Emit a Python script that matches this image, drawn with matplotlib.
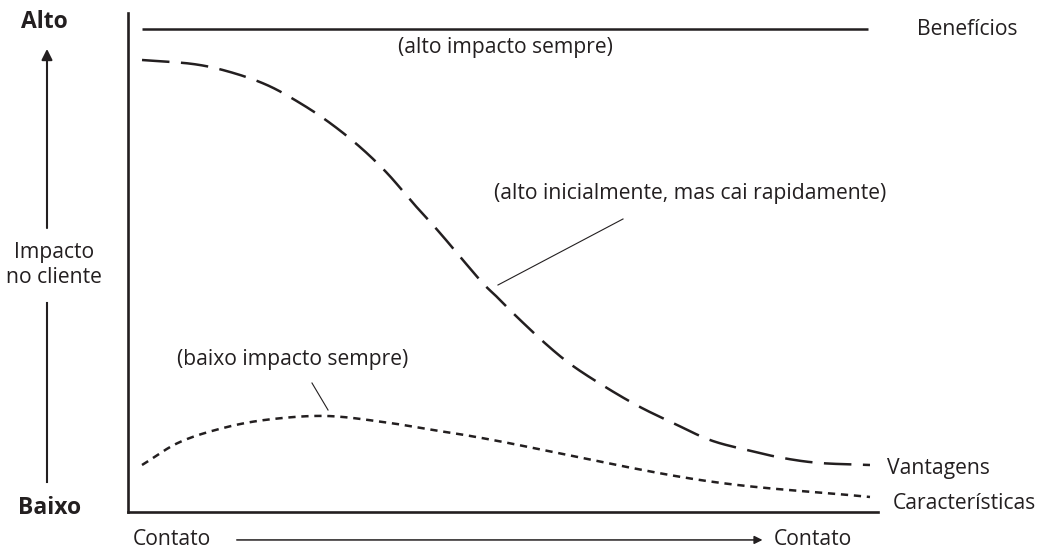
import matplotlib
matplotlib.use("Agg")
import matplotlib.pyplot as plt
import numpy as np

plt.rcParams['font.family'] = ['Open Sans', 'DejaVu Sans']

INK = '#231f20'

# ---- data (x: contato 0..100, y: impacto 0..100) ----
beneficios_x = [1.9, 98.7]
beneficios_y = [96.8, 96.8]

vantagens_x = [1.87, 8.67, 13.6, 18.53, 22.93, 26.93, 30.93, 34.53, 38.0, 41.6,
               46.93, 49.2, 51.87, 55.87, 59.33, 63.87, 68.27, 72.67, 77.6,
               82.53, 87.33, 92.27, 98.93]
vantagens_y = [90.58, 89.78, 88.18, 85.57, 81.96, 77.96, 73.15, 67.94, 61.92, 55.91,
               46.49, 43.09, 39.08, 33.47, 29.26, 24.85, 21.04, 17.84, 14.43,
               12.42, 10.82, 9.82, 9.42]

caracteristicas_x = [1.87, 6.93, 13.2, 19.33, 26.53, 34.0, 40.67, 49.33, 76.27, 98.93]
caracteristicas_y = [9.42, 14.03, 17.03, 18.64, 19.24, 18.04, 16.43, 14.23, 6.41, 3.01]

series_labels = ['Benefícios', 'Vantagens', 'Características']
notes = ['(alto impacto sempre)', '(alto inicialmente, mas cai rapidamente)',
         '(baixo impacto sempre)']
y_labels = ['Alto', 'Impacto\nno cliente', 'Baixo']
x_labels = ['Contato', 'Contato']


def smooth(xs, ys, n=24):
    """Catmull-Rom spline through the read points (for drawing only)."""
    p = np.column_stack([xs, ys]).astype(float)
    p = np.vstack([2 * p[0] - p[1], p, 2 * p[-1] - p[-2]])
    out = []
    t = np.linspace(0, 1, n, endpoint=False)[:, None]
    for i in range(1, len(p) - 2):
        p0, p1, p2, p3 = p[i - 1], p[i], p[i + 1], p[i + 2]
        seg = 0.5 * ((2 * p1) + (-p0 + p2) * t +
                     (2 * p0 - 5 * p1 + 4 * p2 - p3) * t ** 2 +
                     (-p0 + 3 * p1 - 3 * p2 + p3) * t ** 3)
        out.append(seg)
    out.append(p[-2][None, :])
    out = np.vstack(out)
    return out[:, 0], out[:, 1]


fig = plt.figure(figsize=(10.45, 5.51), dpi=100)
W, H = 1045, 551
ax = fig.add_axes([128 / W, (H - 512) / H, (878 - 128) / W, (512 - 13) / H])
ax.set_xlim(0, 100)
ax.set_ylim(0, 100)
for s in ['top', 'right']:
    ax.spines[s].set_visible(False)
for s in ['left', 'bottom']:
    ax.spines[s].set_linewidth(1.9)
    ax.spines[s].set_color(INK)
ax.set_xticks([])
ax.set_yticks([])

lw = 1.8
ax.plot(beneficios_x, beneficios_y, color=INK, lw=lw, solid_capstyle='butt')
vx, vy = smooth(vantagens_x, vantagens_y)
ax.plot(vx, vy, color=INK, lw=lw, dashes=(11, 4.6), dash_capstyle='butt')
cx, cy = smooth(caracteristicas_x, caracteristicas_y)
ax.plot(cx, cy, color=INK, lw=lw, dashes=(2.9, 2.3), dash_capstyle='butt')

fs = 15.2
fb = 16.5
# series labels at right
ax.text(105.2, 96.6, series_labels[0], ha='left', va='center', fontsize=fs, color=INK, clip_on=False)
ax.text(101.2, 8.8, series_labels[1], ha='left', va='center', fontsize=fs, color=INK, clip_on=False)
ax.text(101.9, 1.8, series_labels[2], ha='left', va='center', fontsize=fs, color=INK, clip_on=False)

# notes
ax.text(50.3, 93.0, notes[0], ha='center', va='center', fontsize=fs, color=INK)
ax.text(74.9, 63.9, notes[1], ha='center', va='center', fontsize=fs, color=INK)
ax.text(22.0, 30.5, notes[2], ha='center', va='center', fontsize=fs, color=INK)

# leader lines
ax.plot([49.33, 66.0], [45.49, 58.72], color=INK, lw=0.8)
ax.plot([24.53, 26.67], [25.85, 20.44], color=INK, lw=0.8)

# y axis description
ax.text(-11.1, 98.2, y_labels[0], ha='center', va='center', fontsize=fb,
        fontweight='bold', color=INK, clip_on=False)
ax.text(-9.9, 49.5, y_labels[1], ha='center', va='center', fontsize=fs,
        color=INK, linespacing=1.3, clip_on=False)
ax.text(-10.5, 0.8, y_labels[2], ha='center', va='center', fontsize=fb,
        fontweight='bold', color=INK, clip_on=False)
ax.annotate('', xy=(-10.8, 92.8), xytext=(-10.8, 56.9), xycoords='data',
            arrowprops=dict(arrowstyle='-|>', color=INK, lw=1.5,
                            mutation_scale=16, shrinkA=0, shrinkB=0),
            annotation_clip=False)
ax.plot([-10.8, -10.8], [41.9, 6.0], color=INK, lw=1.5, clip_on=False)

# x axis description
ax.text(5.9, -5.6, x_labels[0], ha='center', va='center', fontsize=fs, color=INK, clip_on=False)
ax.text(91.3, -5.6, x_labels[1], ha='center', va='center', fontsize=fs, color=INK, clip_on=False)
ax.annotate('', xy=(84.6, -5.6), xytext=(14.5, -5.6), xycoords='data',
            arrowprops=dict(arrowstyle='-|>', color=INK, lw=1.1,
                            mutation_scale=12, shrinkA=0, shrinkB=0),
            annotation_clip=False)

fig.savefig('out.png', dpi=100, facecolor='white')
